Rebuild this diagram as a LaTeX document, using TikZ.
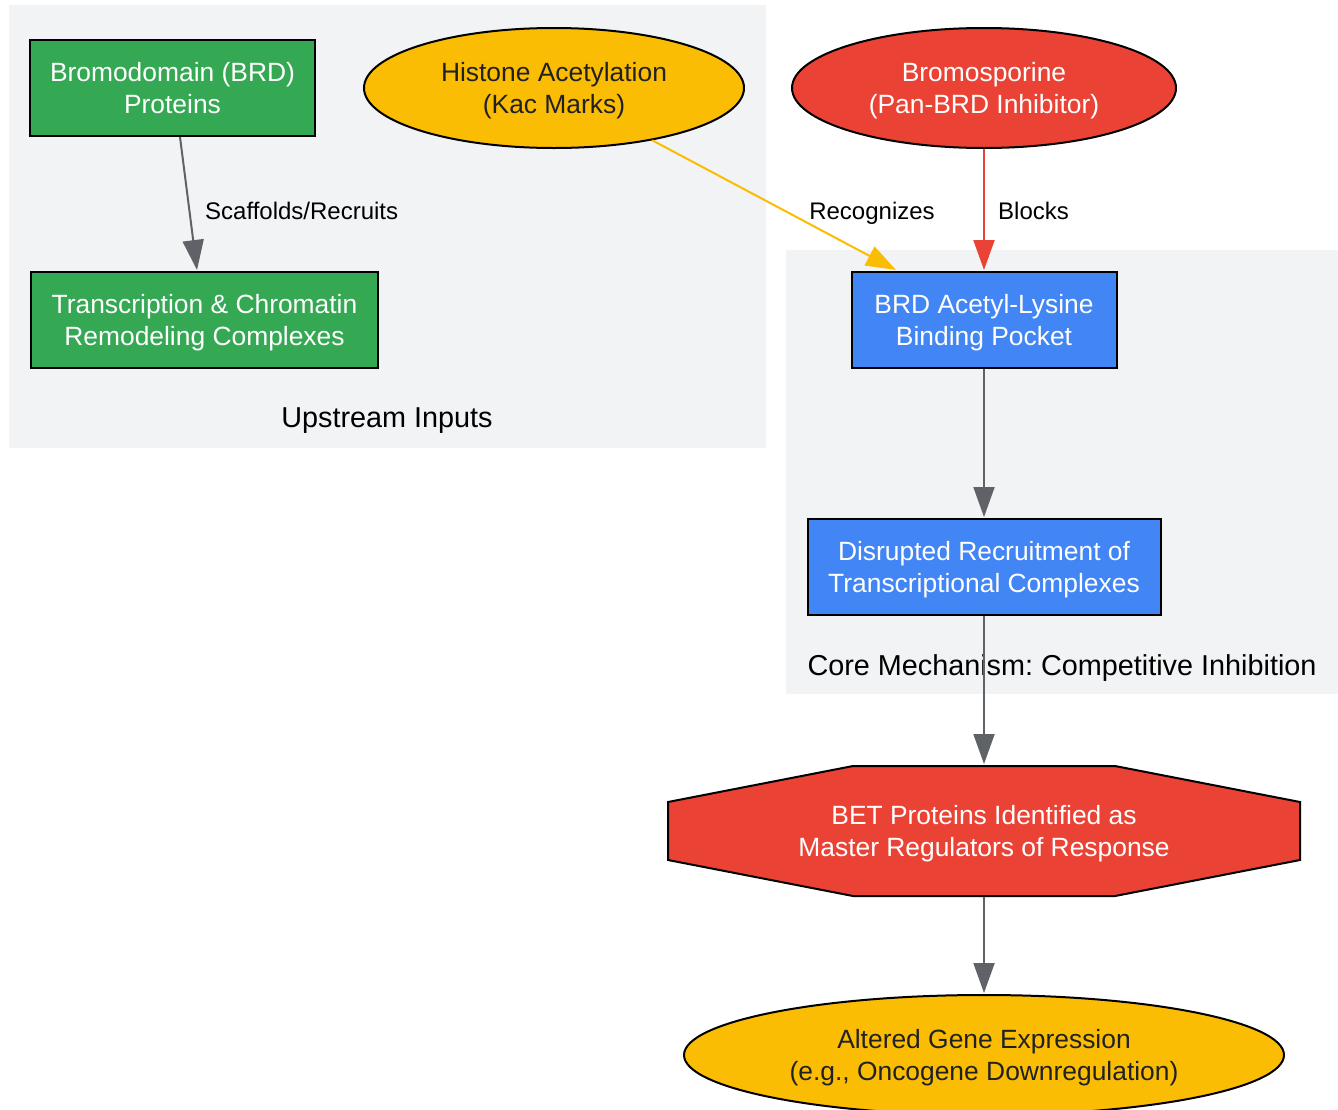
\documentclass[tikz,border=0pt]{standalone}
\usepackage{fontspec}
\setmainfont{Liberation Sans}
\usetikzlibrary{shapes.geometric,arrows.meta,calc}
\frenchspacing
\definecolor{cgreen}{HTML}{34A853}
\definecolor{cyellow}{HTML}{FBBC04}
\definecolor{cred}{HTML}{EA4335}
\definecolor{cblue}{HTML}{4285F4}
\definecolor{cgray}{HTML}{5F6368}
\definecolor{cbg}{HTML}{F1F3F4}
\definecolor{cdark}{HTML}{202124}
\newcommand{\twol}[2]{\raisebox{-3pt}[\height][\depth]{\begin{tabular}{@{}c@{}}#1\\#2\end{tabular}}}
\tikzset{
  x=1pt, y=-1pt,
  base/.style={draw=black, line width=2pt, inner sep=0pt,
    font=\fontsize{26.4}{32}\selectfont},
  boxnode/.style={base, rectangle},
  ellnode/.style={base, ellipse},
  lbl/.style={font=\fontsize{24}{28}\selectfont, text=black, inner sep=0pt},
  clbl/.style={font=\fontsize{28.8}{34}\selectfont, text=black, inner sep=0pt},
  cluster/.style={fill=cbg, draw=none},
  conn/.style={line width=2pt, -{Triangle[length=30pt,width=21pt]}},
}
\begin{document}
\begin{tikzpicture}
\useasboundingbox (0,0) rectangle (1338,1109);
% clusters
\fill[cluster] (9,5) rectangle (766,448);
\fill[cluster] (786,250) rectangle (1338,694);
\node[clbl] (cl1) at (387,421) {Upstream Inputs};
\node[clbl] (cl2) at (1062,668) {Core Mechanism: Competitive Inhibition};
% nodes
\node[boxnode, fill=cgreen, text=white, minimum width=285pt, minimum height=96pt] (brd) at (172.5,88) {\twol{Bromodomain (BRD)}{Proteins}};
\node[boxnode, fill=cgreen, text=white, minimum width=347pt, minimum height=96pt] (trc) at (204.5,320) {\twol{Transcription \& Chromatin}{Remodeling Complexes}};
\node[ellnode, fill=cyellow, text=cdark, minimum width=380pt, minimum height=120pt] (hist) at (554,88) {\twol{Histone Acetylation}{(Kac Marks)}};
\node[ellnode, fill=cred, text=white, minimum width=384pt, minimum height=120pt] (bromo) at (984,88) {\twol{Bromosporine}{(Pan-BRD Inhibitor)}};
\node[boxnode, fill=cblue, text=white, minimum width=265pt, minimum height=96pt] (pocket) at (984,320) {\twol{BRD Acetyl-Lysine}{Binding Pocket}};
\node[boxnode, fill=cblue, text=white, minimum width=353pt, minimum height=96pt] (disr) at (984,567) {\twol{Disrupted Recruitment of}{Transcriptional Complexes}};
\filldraw[fill=cred, draw=black, line width=2pt] (668,802) -- (853,766) -- (1115,766) -- (1300,802) -- (1300,860) -- (1115,896) -- (853,896) -- (668,860) -- cycle;
\node[base, draw=none, text=white, minimum width=632pt, minimum height=130pt] (bet) at (984,831) {\twol{BET Proteins Identified as}{Master Regulators of Response}};
\node[ellnode, fill=cyellow, text=cdark, minimum width=600pt, minimum height=120pt] (alt) at (984,1055) {\twol{Altered Gene Expression}{(e.g., Oncogene Downregulation)}};
% connectors
\draw[conn, cgray] ($(brd.south)+(7.5,0)$) -- ($(trc.north)+(-7.5,-1)$);
\node[lbl, anchor=west] (l1) at (205,211) {Scaffolds/Recruits};
\draw[conn, cyellow] (hist) -- ($(pocket.north)+(-88,-1)$);
\node[lbl] (l2) at (872,213) {Recognizes};
\draw[conn, cred] (bromo) -- ($(pocket.north)+(0,-1)$);
\node[lbl, anchor=west] (l3) at (998,211) {Blocks};
\draw[conn, cgray] (pocket.south) -- ($(disr.north)+(0,-1)$);
\draw[conn, cgray] (disr.south) -- ($(bet.north)+(0,-1)$);
\draw[conn, cgray] (bet.south) -- ($(alt.north)+(0,-1)$);
\end{tikzpicture}
\end{document}
